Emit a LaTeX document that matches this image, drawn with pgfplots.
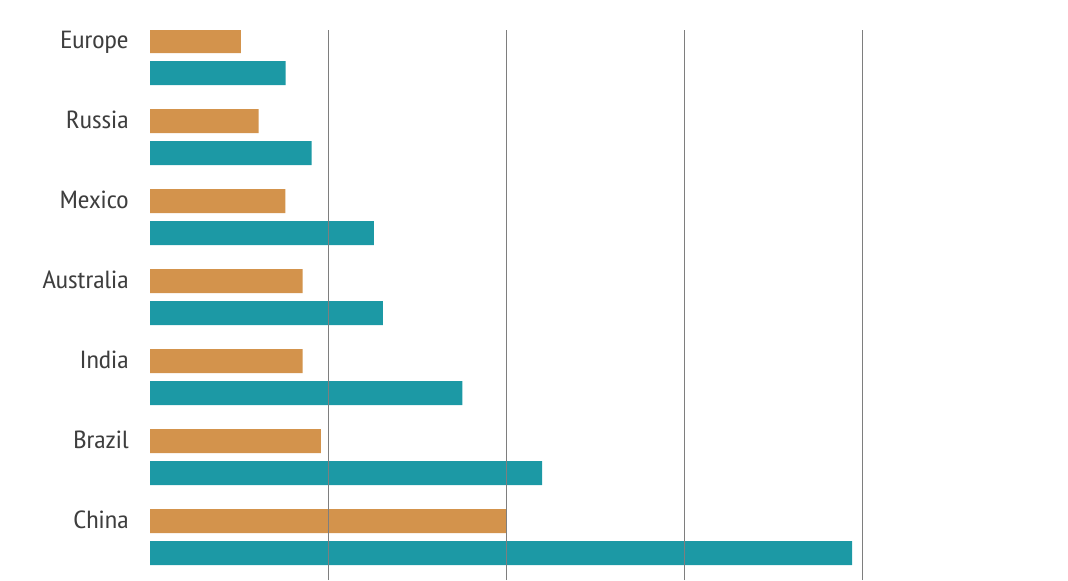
\documentclass[border=0pt]{standalone}
\usepackage{fontspec}
\setmainfont{PT Sans Narrow}[FakeStretch=1.14]
\usepackage{pgfplots}
\pgfplotsset{compat=1.18}
\definecolor{barorange}{HTML}{D3934C}
\definecolor{barteal}{HTML}{1C99A5}
\definecolor{labelgray}{HTML}{3E3E3E}
\definecolor{gridgray}{HTML}{7E7E7E}
\begin{document}
\begin{tikzpicture}
% 1 px of the reference = 0.5pt
\path[use as bounding box] (0,0) rectangle (534pt,290pt);
\begin{axis}[
    at={(75pt,0pt)}, anchor=south west,
    scale only axis,
    width=445.5pt, height=275pt,
    xbar,
    xmin=0, xmax=50,
    ymin=-0.5375, ymax=6.3375,
    bar width=0.3,
    axis line style={draw=none},
    major tick length=0pt,
    xtick={10,20,30,40},
    xticklabels={},
    xmajorgrids=true,
    grid style={gridgray, line width=0.55pt},
    axis on top,
    ytick={0.2,1.2,2.2,3.2,4.2,5.2,6.2},
    yticklabels={China,Brazil,India,Australia,Mexico,Russia,Europe},
    yticklabel style={anchor=base east, inner sep=0pt, xshift=-10.5pt, yshift=-3.8pt,
        text=labelgray, font=\fontsize{12.4}{14}\selectfont},
]
\addplot[fill=barorange, draw=none, bar shift=0.2] coordinates {
    (20.0,0) (9.59,1) (8.56,2) (8.56,3) (7.59,4) (6.10,5) (5.10,6)
};
\addplot[fill=barteal, draw=none, bar shift=-0.2] coordinates {
    (39.4,0) (22.0,1) (17.53,2) (13.07,3) (12.56,4) (9.07,5) (7.61,6)
};
\end{axis}
\end{tikzpicture}
\end{document}
